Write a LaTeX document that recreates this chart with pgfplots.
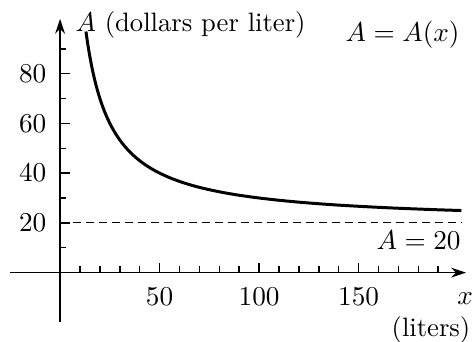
\documentclass[border=0pt]{standalone}
\usepackage{pgfplots}
\pgfplotsset{compat=1.18}
\usetikzlibrary{arrows.meta}
\begin{document}
\begin{tikzpicture}
\begin{axis}[
  x=0.8pt, y=1pt,
  axis lines=middle,
  xmin=-25, xmax=204, ymin=-20, ymax=102,
  axis line style={line width=0.6pt,-{Stealth[length=6pt,width=4pt,inset=2pt]}},
  xtick={50,100,150}, ytick={20,40,60,80},
  minor xtick={10,20,30,40,60,70,80,90,110,120,130,140,160,170,180,190},
  minor ytick={10,30,50,70,90},
  tick align=inside,
  major tick length=4pt, minor tick length=2.5pt,
  tick style={line width=0.6pt, black},
  xticklabel style={yshift=-2.6pt},
  yticklabel style={xshift=-2pt},
  clip=false,
  font=\fontsize{10.7}{13}\selectfont,
]
\addplot[black, line width=1.2pt, smooth] coordinates {
(13,96.92) (13.5,94.07) (14,91.43) (14.5,88.97) (15,86.67) (16,82.5) (17,78.82) (18,75.56)
(19,72.63) (20,70) (21,67.62) (22,65.45) (23,63.48) (24,61.67) (25,60) (26,58.46) (27,57.04)
(28,55.71) (30,53.33) (32,51.25) (34,49.41) (36,47.78) (38,46.32) (40,45) (42,43.81) (44,42.73)
(46,41.74) (48,40.83) (50,40) (55,38.18) (60,36.67) (65,35.38) (70,34.29) (75,33.33) (80,32.5)
(85,31.76) (90,31.11) (95,30.53) (100,30) (110,29.09)
(120,28.33) (130,27.69) (140,27.14) (150,26.67) (160,26.25) (170,25.88)
(180,25.56) (190,25.26) (201.7,24.96)};
\addplot[black, line width=0.5pt, dash pattern=on 3.2pt off 2pt] coordinates {(0,20) (201.7,20)};
\node[anchor=west, inner sep=0pt] at (axis cs:7.5,99.6) {$A$ (dollars per liter)};
\node[anchor=east, inner sep=0pt] at (axis cs:201,95.6) {$A=A(x)$};
\node[anchor=east, inner sep=0pt] at (axis cs:201.5,12.9) {$A=20$};
\node[inner sep=0pt] at (axis cs:203.5,-10.4) {$x$};
\node[anchor=east, inner sep=0pt] at (axis cs:206.4,-23) {(liters)};
\coordinate (bl) at (axis cs:-30.2,-27.6);
\coordinate (tr) at (axis cs:207.5,109.6);
\end{axis}
\pgfresetboundingbox
\path[use as bounding box] (bl) rectangle (tr);
\end{tikzpicture}
\end{document}
